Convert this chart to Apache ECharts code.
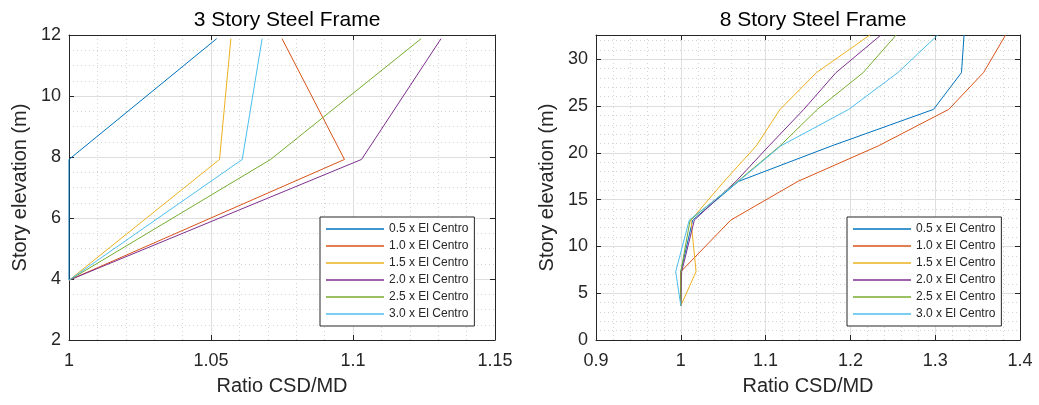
<!DOCTYPE html>
<html>
<head>
<meta charset="utf-8">
<script src="https://cdn.jsdelivr.net/npm/echarts@6/dist/echarts.min.js"></script>
<style>
  html, body { margin: 0; padding: 0; background: #fff; }
  #main { width: 1039px; height: 405px; }
</style>
</head>
<body>
<div id="main"></div>
<script>
// legend names and colours (MATLAB default order)
const names = ['0.5 x El Centro', '1.0 x El Centro', '1.5 x El Centro', '2.0 x El Centro', '2.5 x El Centro', '3.0 x El Centro'];
const colors = ['#0072BD', '#D95319', '#EDB120', '#7E2F8E', '#77AC30', '#4DBEEE'];

// 3 story frame: floor elevations (m) and CSD/MD ratios per scale
const elev3 = [3.96, 7.92, 11.88];
const r3_05 = [1.0, 1.0, 1.052];
const r3_10 = [1.0, 1.097, 1.075];
const r3_15 = [1.0, 1.053, 1.057];
const r3_20 = [1.0, 1.103, 1.131];
const r3_25 = [1.0, 1.071, 1.124];
const r3_30 = [1.0, 1.061, 1.068];

// 8 story frame
const elev8 = [3.67, 7.3, 12.82, 16.95, 20.75, 24.65, 28.58, 32.6];
const r8_05 = [1.0, 1.0, 1.014, 1.068, 1.178, 1.298, 1.331, 1.334];
const r8_10 = [1.0, 1.0, 1.059, 1.138, 1.233, 1.316, 1.357, 1.383];
const r8_15 = [1.0, 1.018, 1.012, 1.051, 1.089, 1.117, 1.16, 1.223];
const r8_20 = [1.0, 1.001, 1.016, 1.065, 1.104, 1.145, 1.183, 1.236];
const r8_25 = [1.0, 1.0, 1.011, 1.067, 1.117, 1.161, 1.215, 1.254];
const r8_30 = [1.0, 0.994, 1.010, 1.068, 1.118, 1.198, 1.256, 1.303];

const ratios3 = [r3_05, r3_10, r3_15, r3_20, r3_25, r3_30];
const ratios8 = [r8_05, r8_10, r8_15, r8_20, r8_25, r8_30];

const font = "'Liberation Sans', Arial, Helvetica, sans-serif";
const ink = '#262626';

function mainX(grid, min, max, interval) {
    return {
        type: 'value', gridIndex: grid, min: min, max: max, interval: interval,
        position: 'bottom',
        name: 'Ratio CSD/MD', nameLocation: 'middle', nameGap: 36,
        nameTextStyle: { fontFamily: font, fontSize: 20, color: ink },
        axisLine: { show: true, onZero: false, lineStyle: { color: ink, width: 1 } },
        axisTick: { show: true, inside: true, length: 5, lineStyle: { color: ink } },
        axisLabel: { fontFamily: font, fontSize: 18, color: ink, margin: 12 },
        splitLine: { show: true, lineStyle: { color: '#dedede', width: 1 } },
        minorTick: { show: false, splitNumber: 5 },
        minorSplitLine: { show: true, lineStyle: { color: '#d4d4d4', type: [1, 3] } }
    };
}
function mainY(grid, min, max, interval, minorSplit) {
    return {
        type: 'value', gridIndex: grid, min: min, max: max, interval: interval,
        position: 'left',
        name: 'Story elevation (m)', nameLocation: 'middle', nameGap: 39,
        nameTextStyle: { fontFamily: font, fontSize: 20, color: ink },
        axisLine: { show: true, onZero: false, lineStyle: { color: ink, width: 1 } },
        axisTick: { show: true, inside: true, length: 5, lineStyle: { color: ink } },
        axisLabel: { fontFamily: font, fontSize: 18, color: ink, margin: 8, showMaxLabel: max % interval === 0 },
        splitLine: { show: true, lineStyle: { color: '#dedede', width: 1 } },
        minorTick: { show: false, splitNumber: minorSplit },
        minorSplitLine: { show: true, lineStyle: { color: '#d4d4d4', type: [1, 3] } }
    };
}
// box axes (top / right) with inward ticks, no labels
function boxAxis(grid, pos, min, max, interval) {
    return {
        type: 'value', gridIndex: grid, min: min, max: max, interval: interval,
        position: pos,
        axisLine: { show: true, onZero: false, lineStyle: { color: ink, width: 1 } },
        axisTick: { show: true, inside: true, length: 5, lineStyle: { color: ink } },
        axisLabel: { show: false },
        splitLine: { show: false }
    };
}

function makeSeries(ratios, elev, axisIdx) {
    return ratios.map(function (r, i) {
        return {
            name: names[i],
            type: 'line',
            xAxisIndex: axisIdx,
            yAxisIndex: axisIdx,
            symbol: 'none',
            clip: false,
            color: colors[i],
            lineStyle: { width: 1, color: colors[i] },
            data: r.map(function (v, k) { return [v, elev[k]]; })
        };
    });
}

function makeLegend(left) {
    return {
        data: names,
        orient: 'vertical',
        left: left, top: 217,
        padding: [5, 6, 5, 6],
        itemGap: 3,
        itemWidth: 58, itemHeight: 14,
        icon: 'path://M0,0H58V1.3H0Z',
        backgroundColor: '#fff',
        borderColor: ink, borderWidth: 1,
        textStyle: { fontFamily: font, fontSize: 12, color: ink, lineHeight: 14 }
    };
}

const chart = echarts.init(document.getElementById('main'));
chart.setOption({
    animation: false,
    backgroundColor: '#fff',
    title: [{
        text: '3 Story Steel Frame', left: 282, top: 5, textAlign: 'center',
        textStyle: { fontFamily: font, fontSize: 21, fontWeight: 'normal', color: '#000' }
    }, {
        text: '8 Story Steel Frame', left: 808, top: 5, textAlign: 'center',
        textStyle: { fontFamily: font, fontSize: 21, fontWeight: 'normal', color: '#000' }
    }],
    legend: [makeLegend(320), makeLegend(847)],
    grid: [
        { left: 69, top: 35, width: 426, height: 305, containLabel: false },
        { left: 596, top: 35, width: 424, height: 305, containLabel: false }
    ],
    xAxis: [
        mainX(0, 1, 1.15, 0.05),
        boxAxis(0, 'top', 1, 1.15, 0.05),
        mainX(1, 0.9, 1.4, 0.1),
        boxAxis(1, 'top', 0.9, 1.4, 0.1)
    ],
    yAxis: [
        mainY(0, 2, 12, 2, 4),
        boxAxis(0, 'right', 2, 12, 2),
        mainY(1, 0, 32.6, 5, 5),
        boxAxis(1, 'right', 0, 32.6, 5)
    ],
    series: makeSeries(ratios3, elev3, 0).concat(makeSeries(ratios8, elev8, 2))
});
</script>
</body>
</html>
